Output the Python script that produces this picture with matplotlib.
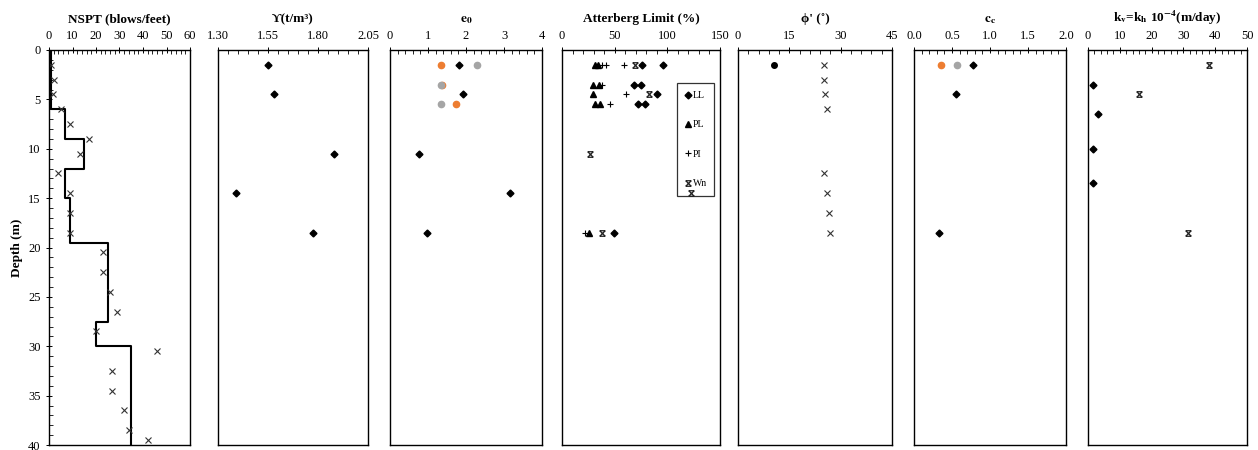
import matplotlib
matplotlib.use('Agg')
import matplotlib.pyplot as plt
import numpy as np
from matplotlib.path import Path
from matplotlib.ticker import FixedLocator, FuncFormatter

plt.rcParams['font.family'] = ['Liberation Serif', 'DejaVu Serif']
plt.rcParams['mathtext.fontset'] = 'stix'

# NSPT field values and the design step profile
nspt_depth = [1.5, 3, 4.5, 6, 7.5, 9, 10.5, 12.5, 14.5, 16.5, 18.5, 20.5, 22.5,
              24.5, 26.5, 28.5, 30.5, 32.5, 34.5, 36.5, 38.5, 39.5]
nspt_value = [1, 2, 1.5, 5, 9, 17, 13, 4, 9, 9, 9, 23, 23, 26, 29, 20, 46, 27, 27,
              32, 34, 42]
step_depth = [0, 6, 6, 9, 9, 12, 12, 15, 15, 19.5, 19.5, 27.5, 27.5, 30, 30, 40]
step_value = [1, 1, 7, 7, 15, 15, 7, 7, 9, 9, 25, 25, 20, 20, 35, 35]

# unit weight
gamma_depth = [1.5, 4.5, 10.5, 14.5, 18.5]
gamma_value = [1.55, 1.58, 1.88, 1.39, 1.775]

# void ratio
e0_depth = [1.5, 4.5, 10.5, 14.5, 18.5]
e0_value = [1.82, 1.93, 0.76, 3.16, 0.98]
e0_orange_depth = [1.5, 3.5, 5.5]
e0_orange_value = [1.34, 1.38, 1.74]
e0_gray_depth = [1.5, 3.5, 5.5]
e0_gray_value = [2.29, 1.34, 1.34]

# Atterberg limits
ll_depth = [1.5, 1.5, 3.5, 3.5, 4.5, 5.5, 5.5, 18.5]
ll_value = [76, 96, 68, 75, 90, 72, 79, 49]
pl_depth = [1.5, 1.5, 3.5, 3.5, 4.5, 5.5, 5.5, 18.5]
pl_value = [31, 34, 29, 35, 29, 31, 36, 26]
pi_depth = [1.5, 1.5, 1.5, 3.5, 4.5, 5.5, 18.5]
pi_value = [38, 42, 59, 38, 61, 46, 22]
wn_depth = [1.5, 4.5, 10.5, 14.5, 18.5]
wn_value = [69, 83, 27, 122, 38]

# friction angle
phi_dot_depth = [1.5]
phi_dot_value = [10.5]
phi_depth = [1.5, 3, 4.5, 6, 12.5, 14.5, 16.5, 18.5]
phi_value = [25, 25, 25.5, 26, 25, 26, 26.5, 27]

# compression index
cc_depth = [1.5, 4.5, 18.5]
cc_value = [0.78, 0.55, 0.33]
cc_orange_depth = [1.5]
cc_orange_value = [0.36]
cc_gray_depth = [1.5]
cc_gray_value = [0.57]

# permeability
k_star_depth = [1.5, 4.5, 18.5]
k_star_value = [38, 16, 31.5]
k_dot_depth = [3.5, 6.5, 10, 13.5]
k_dot_value = [1.6, 3.1, 1.6, 1.6]

# hourglass-like excel "star" marker
hg = Path([(-1, -1), (1, 1), (-1, 1), (1, -1), (-1, 1), (1, 1), (-1, -1), (1, -1)],
          [Path.MOVETO, Path.LINETO] * 4)

fig = plt.figure(figsize=(12.58, 4.5), dpi=100)
W, H = 1258, 450
bounds = [(49, 190), (218, 368), (390, 542), (562, 720), (738, 892), (914, 1066), (1088, 1247)]
top, bot = 50, 445
axes = [fig.add_axes([l / W, 1 - bot / H, (r - l) / W, (bot - top) / H]) for l, r in bounds]

titles = ['NSPT (blows/feet)', 'ϒ(t/m³)', r'$\mathbf{e_0}$', 'Atterberg Limit (%)',
          "ϕ' (˚)", r'$\mathbf{c_c}$', r'k$_\mathbf{v}$=k$_\mathbf{h}$ 10$^{\mathbf{-4}}$(m/day)']
xlims = [(0, 60), (1.30, 2.05), (0, 4), (0, 150), (0, 45), (0, 2.0), (0, 50)]
majors = [10, 0.25, 1, 50, 15, 0.5, 10]
minors = [2, 0.05, 0.2, 10, 3, 0.1, 2]
fmts = ['{:.0f}', '{:.2f}', '{:.0f}', '{:.0f}', '{:.0f}', '{:.1f}', '{:.0f}']

for ax, t, xl, mj, mn, f in zip(axes, titles, xlims, majors, minors, fmts):
    ax.set_xlim(*xl)
    ax.set_ylim(40, 0)
    ax.xaxis.tick_top()
    nmj = int(round((xl[1] - xl[0]) / mj))
    nmn = int(round((xl[1] - xl[0]) / mn))
    ax.xaxis.set_major_locator(FixedLocator(np.linspace(xl[0], xl[1], nmj + 1)))
    ax.xaxis.set_minor_locator(FixedLocator(np.linspace(xl[0], xl[1], nmn + 1)))
    ax.xaxis.set_major_formatter(FuncFormatter(lambda v, p, f=f: f.format(v)))
    ax.tick_params(axis='x', which='major', direction='inout', length=5, labelsize=9, pad=3, width=0.7)
    ax.tick_params(axis='x', which='minor', direction='in', length=3, width=0.6)
    ax.set_title(t, fontsize=9.5, fontweight='bold', pad=20)
    for s in ax.spines.values():
        s.set_linewidth(1.0)
    if ax is not axes[0]:
        ax.set_yticks([])

ax = axes[0]
ax.yaxis.set_major_locator(FixedLocator(np.arange(0, 41, 5)))
ax.yaxis.set_minor_locator(FixedLocator(np.arange(0, 41, 1)))
ax.tick_params(axis='y', which='major', direction='inout', length=5, labelsize=9, width=0.7)
ax.tick_params(axis='y', which='minor', direction='in', length=3, width=0.6)
ax.set_ylabel('Depth (m)', fontsize=9.5, fontweight='bold', labelpad=4)
ax.plot(step_value, step_depth, color='black', lw=1.5)
ax.plot(nspt_value, nspt_depth, 'x', color='#333333', ms=4, mew=0.8)

axes[1].plot(gamma_value, gamma_depth, 'D', color='black', ms=3.5)

axes[2].plot(e0_value, e0_depth, 'D', color='black', ms=3.5)
axes[2].plot(e0_orange_value, e0_orange_depth, 'o', color='#ED7D31', ms=4.5)
axes[2].plot(e0_gray_value, e0_gray_depth, 'o', color='#A5A5A5', ms=4.5)

ax = axes[3]
ax.plot(ll_value, ll_depth, 'D', color='black', ms=3.5, ls='none', label='LL')
ax.plot(pl_value, pl_depth, '^', color='black', ms=4.5, ls='none', label='PL')
ax.plot(pi_value, pi_depth, '+', color='black', ms=5, mew=0.8, ls='none', label='PI')
ax.plot(wn_value, wn_depth, marker=hg, color='#222222', ms=4, mew=0.9, ls='none', label='Wn')
leg = ax.legend(loc='upper left', bbox_to_anchor=(0.728, 0.916), fontsize=7,
                handlelength=0.6, handletextpad=0.2, labelspacing=2.1,
                borderpad=0.8, fancybox=False, facecolor='none', edgecolor='black',
                borderaxespad=0)
leg.get_frame().set_linewidth(0.9)
leg.set_zorder(1)

axes[4].plot(phi_dot_value, phi_dot_depth, 'o', color='black', ms=4)
axes[4].plot(phi_value, phi_depth, 'x', color='#333333', ms=4, mew=0.8)

axes[5].plot(cc_value, cc_depth, 'D', color='black', ms=3.5)
axes[5].plot(cc_orange_value, cc_orange_depth, 'o', color='#ED7D31', ms=4.5)
axes[5].plot(cc_gray_value, cc_gray_depth, 'o', color='#A5A5A5', ms=4.5)

axes[6].plot(k_star_value, k_star_depth, marker=hg, color='#222222', ms=4, mew=0.9, ls='none')
axes[6].plot(k_dot_value, k_dot_depth, 'D', color='black', ms=3.5)

fig.savefig('out.png', dpi=100)
